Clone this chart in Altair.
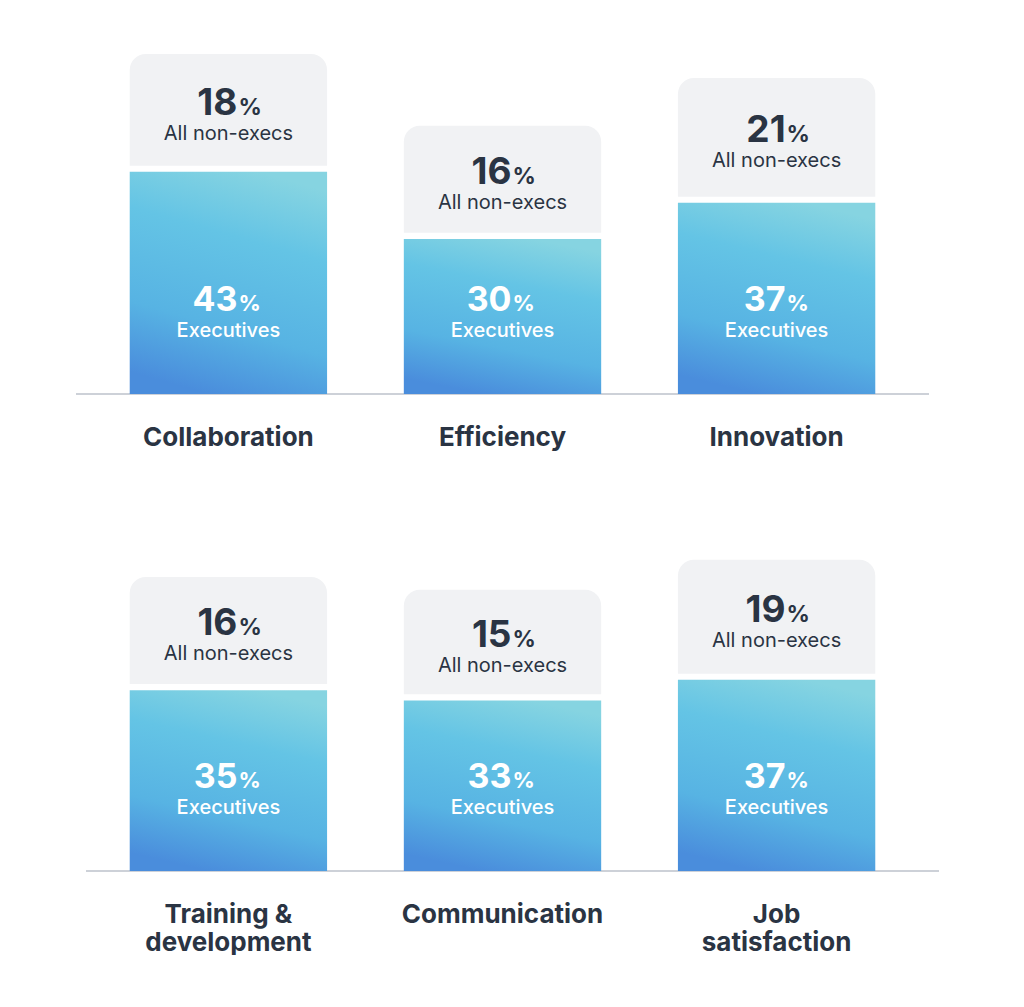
#%%
import pandas as pd
import altair as alt
#%%
# Values read off the infographic: two rows of three topics
categories = ["Collaboration", "Efficiency", "Innovation",
              "Training &\ndevelopment", "Communication", "Job\nsatisfaction"]
executives = [43, 30, 37, 35, 33, 37]
non_execs = [18, 16, 21, 16, 15, 19]
rows = [1, 1, 1, 2, 2, 2]

df = pd.DataFrame({"category": categories, "exec": executives,
                   "nonexec": non_execs, "row": rows})
#%%
FONT = "Inter"
DARK = "#2a3443"
GREY_BOX = "#f1f2f4"
GAP = 1.2        # white gap between the blue bar and the grey box (in % units)
BOX_BASE = 13.5  # grey box = fixed part + a share of the non-exec value
BOX_K = 0.45
W, H = 853, 341

blue = alt.Gradient(
    gradient="linear",
    stops=[alt.GradientStop(color="#86d4e1", offset=0),
           alt.GradientStop(color="#64c4e5", offset=0.3),
           alt.GradientStop(color="#57b3e3", offset=0.7),
           alt.GradientStop(color="#4a8ddc", offset=1)],
    x1=0.65, y1=0, x2=0.4, y2=1)


def panel(r, rule_shift):
    d = df[df.row == r]
    x = alt.X("category:N", sort=list(d.category), title=None,
              scale=alt.Scale(paddingInner=0.28, paddingOuter=0.196),
              axis=alt.Axis(domain=False, ticks=False, tickSize=0, labelAngle=0,
                            labelPadding=30, labelFont=FONT, labelFontSize=26,
                            labelFontWeight="bold", labelColor=DARK,
                            labelLineHeight=28, labelLimit=300,
                            labelExpr="split(datum.label, '\\n')"))
    yscale = alt.Scale(domain=[0, 66], nice=False)

    base = alt.Chart(d).transform_calculate(
        lo=f"datum.exec + {GAP}",
        hi=f"datum.exec + {GAP} + {BOX_BASE} + {BOX_K} * datum.nonexec",
    ).transform_calculate(mid="(datum.lo + datum.hi) / 2")

    rule = alt.Chart(pd.DataFrame({"v": [0]})).mark_rule(
        color="#cdd1d8", strokeWidth=2).encode(
        x=alt.value(rule_shift), x2=alt.value(W + rule_shift), y=alt.value(H))

    exec_bar = base.mark_bar(color=blue).encode(
        x=x, y=alt.Y("exec:Q", scale=yscale, axis=None))
    grey_bar = base.mark_bar(color=GREY_BOX, cornerRadiusTopLeft=16,
                             cornerRadiusTopRight=16).encode(
        x=x, y=alt.Y("lo:Q", scale=yscale, axis=None), y2="hi:Q")

    ne_num = base.mark_text(align="right", baseline="alphabetic", dx=9, dy=5,
                            font=FONT, fontSize=37, fontWeight="bold",
                            color=DARK).encode(x=x, y="mid:Q", text="nonexec:Q")
    ne_pct = base.mark_text(text="%", align="left", baseline="alphabetic", dx=10,
                            dy=5, font=FONT, fontSize=23, fontWeight="bold",
                            color=DARK).encode(x=x, y="mid:Q")
    ne_lab = base.mark_text(text="All non-execs", baseline="alphabetic", dy=30,
                            font=FONT, fontSize=20, color=DARK).encode(x=x, y="mid:Q")

    ex_num = base.mark_text(align="right", baseline="alphabetic", dx=9, dy=-83,
                            font=FONT, fontSize=34, fontWeight="bold",
                            color="white").encode(x=x, y=alt.datum(0), text="exec:Q")
    ex_pct = base.mark_text(text="%", align="left", baseline="alphabetic", dx=10,
                            dy=-83, font=FONT, fontSize=22, fontWeight="bold",
                            color="white").encode(x=x, y=alt.datum(0))
    ex_lab = base.mark_text(text="Executives", baseline="alphabetic", dy=-57,
                            font=FONT, fontSize=20, fontWeight=500,
                            color="white").encode(x=x, y=alt.datum(0))

    return alt.layer(rule, exec_bar, grey_bar, ne_num, ne_pct, ne_lab,
                     ex_num, ex_pct, ex_lab).properties(width=W, height=H)
#%%
# background first: .configure() replaces the whole config
chart = (alt.vconcat(panel(1, 0), panel(2, 10), spacing=80)
    .properties(padding={"left": 67, "top": 45, "right": 0, "bottom": 0})
    .configure(background="white")
    .configure_view(strokeWidth=0, stroke="transparent"))

chart.save("out.html", embed_options={"renderer": "svg", "actions": False})
